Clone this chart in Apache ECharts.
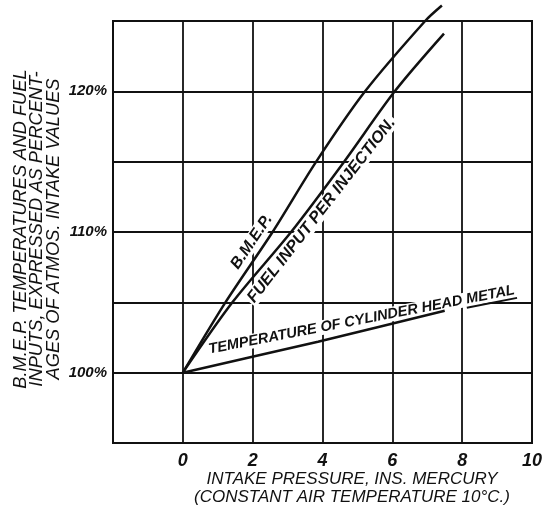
<!DOCTYPE html>
<html>
<head>
<meta charset="utf-8">
<script src="https://cdn.jsdelivr.net/npm/echarts@6/dist/echarts.min.js"></script>
<style>
html,body{margin:0;padding:0;background:#fff;}
#chart{width:545px;height:511px;}
</style>
</head>
<body>
<div id="chart"></div>
<script>
// ---- data ----
const xTickValues = [-2, 0, 2, 4, 6, 8, 10];
const xTickLabels = ['', '0', '2', '4', '6', '8', '10'];
const yTickValues = [95, 100, 105, 110, 115, 120, 125];
const yTickLabels = ['', '100%', '', '110%', '', '120%', ''];

const bmepX = [0, 1.22, 2.57, 3.82, 5.22, 6.94, 7.42];
const bmepY = [100, 105, 110, 115, 120, 125, 126.1];

const fuelX = [0, 1.42, 3.1, 4.62, 6.07, 7.48];
const fuelY = [100, 105, 110, 115, 120, 124.1];

const tempX = [0, 3.87, 7.5];
const tempY = [100, 102.2, 104.4];

const labelTexts = ['B.M.E.P.', 'FUEL INPUT PER INJECTION.', 'TEMPERATURE OF CYLINDER HEAD METAL'];
const labelAnchorX = [1.97, 3.97, 5.12];
const labelAnchorY = [109.3, 111.55, 103.75];
const labelAngles = [56, 52, 11];
const labelSizes = [16, 16.3, 14.6];
const underlinedWord = ['', '', 'METAL'];

const xTitle = 'INTAKE PRESSURE, INS. MERCURY\n(CONSTANT AIR TEMPERATURE 10°C.)';
const yTitle = 'B.M.E.P. TEMPERATURES AND FUEL\nINPUTS, EXPRESSED AS PERCENT-\nAGES OF ATMOS. INTAKE VALUES';

// ---- build ----
const FONT = "'Liberation Sans', Arial, sans-serif";
const INK = '#111';
function pairs(xs, ys){ return xs.map((x,i)=>[x, ys[i]]); }
function lookup(values, labels, v){
  const i = values.findIndex(t => Math.abs(t - v) < 1e-6);
  return i >= 0 ? labels[i] : '';
}
const measureCtx = document.createElement('canvas').getContext('2d');
function textWidth(s, font){ measureCtx.font = font; return measureCtx.measureText(s).width; }

const chart = echarts.init(document.getElementById('chart'), null, {renderer:'canvas'});
const lineStyle = {color: INK, width: 2.5};
const option = {
  backgroundColor: '#fff',
  animation: false,
  grid: {left: 113, right: 9, top: 21, bottom: 68, show: true, borderColor: INK, borderWidth: 2, backgroundColor: 'transparent'},
  xAxis: {
    type: 'value', min: -2, max: 10, interval: 2,
    axisLine: {show: false}, axisTick: {show: false},
    splitLine: {show: true, lineStyle: {color: INK, width: 1.8}},
    axisLabel: {
      margin: 9, color: INK, fontFamily: FONT, fontStyle: 'italic', fontWeight: 'bold', fontSize: 18,
      formatter: v => lookup(xTickValues, xTickLabels, v)
    }
  },
  yAxis: {
    type: 'value', min: 95, max: 125, interval: 5,
    axisLine: {show: false}, axisTick: {show: false},
    splitLine: {show: true, lineStyle: {color: INK, width: 1.8}},
    axisLabel: {
      margin: 6, color: INK, fontFamily: FONT, fontStyle: 'italic', fontWeight: 'bold', fontSize: 15,
      formatter: v => lookup(yTickValues, yTickLabels, v)
    }
  },
  series: [
    {name: 'B.M.E.P.', type: 'line', data: pairs(bmepX, bmepY), smooth: 0.3, showSymbol: false, clip: false, lineStyle: lineStyle, z: 3},
    {name: 'Fuel input per injection', type: 'line', data: pairs(fuelX, fuelY), smooth: 0.3, showSymbol: false, clip: false, lineStyle: lineStyle, z: 3},
    {name: 'Temperature of cylinder head metal', type: 'line', data: pairs(tempX, tempY), smooth: 0.2, showSymbol: false, clip: false, lineStyle: lineStyle, z: 3}
  ]
};
chart.setOption(option);

const graphics = [];
labelTexts.forEach((t, i) => {
  const p = chart.convertToPixel({gridIndex: 0}, [labelAnchorX[i], labelAnchorY[i]]);
  const font = 'italic bold ' + labelSizes[i] + 'px ' + FONT;
  const children = [{
    type: 'text', z: 2,
    style: {
      text: t, x: 0, y: 0, align: 'center', verticalAlign: 'middle',
      font: font, fill: INK, backgroundColor: '#fff', padding: [0, 2], lineHeight: labelSizes[i]
    }
  }];
  if (underlinedWord[i]) {
    const full = textWidth(t, font);
    const w = textWidth(underlinedWord[i], font);
    const x2 = full / 2;
    const x1 = x2 - w;
    const yU = labelSizes[i] * 0.55;
    children.push({type: 'line', z: 4, shape: {x1: x1 - 1, y1: yU, x2: x2 + 1, y2: yU}, style: {stroke: INK, lineWidth: 2}});
  }
  graphics.push({
    type: 'group', x: p[0], y: p[1], rotation: labelAngles[i] * Math.PI / 180, z: 2,
    children: children
  });
});
graphics.push({
  type: 'text', x: 352, y: 488, z: 10,
  style: {text: xTitle, x: 0, y: 0, align: 'center', verticalAlign: 'middle', font: 'italic 17px ' + FONT, fill: INK, lineHeight: 18}
});
graphics.push({
  type: 'text', x: 37, y: 229, rotation: Math.PI / 2, z: 10,
  style: {text: yTitle, x: 0, y: 0, align: 'center', verticalAlign: 'middle', font: 'italic 18.3px ' + FONT, fill: INK, lineHeight: 16.5}
});
chart.setOption({graphic: graphics});
</script>
</body>
</html>
